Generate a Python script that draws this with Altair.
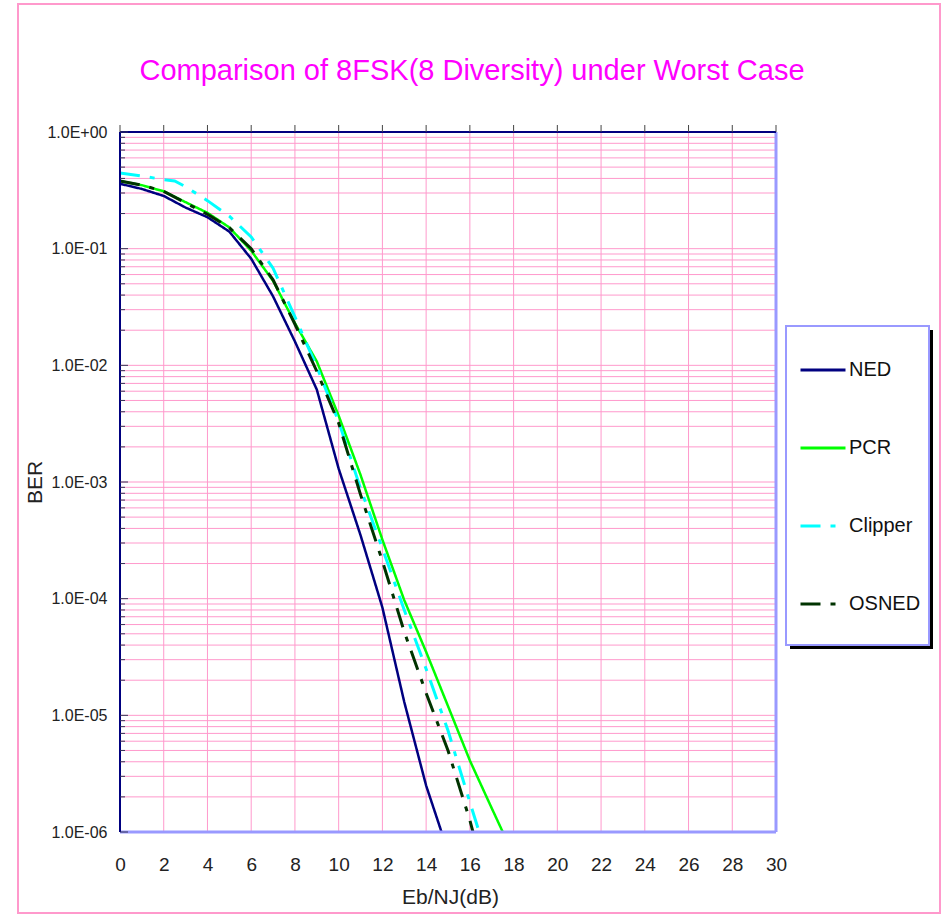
import altair as alt
import pandas as pd

FONT = "Liberation Sans, Arial, Helvetica, sans-serif"
TITLE = "Comparison of 8FSK(8 Diversity) under Worst Case"

# BER curves (Eb/NJ in dB -> bit error rate)
NED_X = [0, 1, 2, 3, 4, 5, 6, 7, 8, 9, 10, 11, 12, 13, 14, 15]
NED_BER = [0.36, 0.325, 0.283, 0.225, 0.186, 0.14, 0.082, 0.039, 0.016, 0.0062,
           0.0013, 3.5e-4, 8.4e-5, 1.3e-5, 2.5e-6, 6.8e-7]

PCR_X = [0, 1, 2, 3, 4, 5, 6, 7, 8, 9, 10, 11, 12, 13, 14, 15, 16, 17, 18]
PCR_BER = [0.38, 0.35, 0.31, 0.25, 0.203, 0.152, 0.096, 0.053, 0.023, 0.0108,
           0.0037, 0.00115, 3.2e-4, 9.7e-5, 3.5e-5, 1.2e-5, 4.1e-6, 1.6e-6, 6.3e-7]

CLIP_X = [0, 1, 2, 2.5, 3, 4, 5, 6, 7, 8, 9, 10, 11, 12, 13, 14, 15, 16, 17]
CLIP_BER = [0.445, 0.42, 0.39, 0.38, 0.34, 0.258, 0.19, 0.126, 0.068, 0.026,
            0.0097, 0.0033, 8.8e-4, 2.7e-4, 8e-5, 2.5e-5, 7.4e-6, 1.8e-6, 4.5e-7]

OSNED_X = [0, 1, 2, 3, 4, 5, 6, 7, 8, 9, 10, 11, 12, 13, 14, 15, 16, 17]
OSNED_BER = [0.38, 0.35, 0.31, 0.247, 0.197, 0.151, 0.1, 0.054, 0.0225, 0.0089,
             0.0032, 7.8e-4, 2.1e-4, 5.2e-5, 1.55e-5, 5e-6, 1.26e-6, 2.5e-7]

SERIES = ["NED", "PCR", "Clipper", "OSNED"]
COLORS = ["#000080", "#00FF00", "#00FFFF", "#003300"]
DASHES = [[1, 0], [1, 0], [20, 10, 5, 10], [20, 10, 5, 10]]
WIDTHS = [2.5, 2.5, 3, 3]

# axis positions
X_TICKS = list(range(0, 31, 2))
DECADES = [1e-6, 1e-5, 1e-4, 1e-3, 1e-2, 1e-1, 1.0]
MINOR_STEPS = [2, 3, 4, 5, 6, 7, 8, 9]

W, H = 656, 700

rows = []
for name, xs, ys in [("NED", NED_X, NED_BER), ("PCR", PCR_X, PCR_BER),
                     ("Clipper", CLIP_X, CLIP_BER), ("OSNED", OSNED_X, OSNED_BER)]:
    for xv, yv in zip(xs, ys):
        rows.append({"series": name, "x": xv, "ber": yv})
df = pd.DataFrame(rows)

minor_vals = [m * d for d in DECADES[:-1] for m in MINOR_STEPS]
hgrid = pd.DataFrame({"v": DECADES[1:-1] + minor_vals})
major_df = pd.DataFrame({"v": DECADES})
minor_df = pd.DataFrame({"v": minor_vals})
vgrid = pd.DataFrame({"x": X_TICKS[1:-1]})
xtick_df = pd.DataFrame({"x": X_TICKS})
one = pd.DataFrame({"k": [0]})
title_df = pd.DataFrame({"t": [TITLE]})

x_scale = alt.Scale(domain=[0, 30], nice=False, zero=False)
y_scale = alt.Scale(type="log", domain=[1e-6, 1], nice=False)

x_axis = alt.Axis(
    values=X_TICKS, ticks=False, grid=False, domain=False, labelFlush=False,
    labelFont=FONT, labelFontSize=19, labelColor="#222222", labelPadding=32,
    labelBaseline="middle",
    title="Eb/NJ(dB)", titleFont=FONT, titleFontSize=21, titleFontWeight="normal",
    titleColor="#222222", titleX=330, titleY=65, titleBaseline="middle", titleAlign="center",
)
y_axis = alt.Axis(
    values=DECADES, ticks=False, grid=False, domain=False,
    labelExpr="datum.value >= 1 ? '1.0E+00' : '1.0E-0' + round(-log(datum.value) / LN10)",
    labelFont=FONT, labelFontSize=16, labelColor="#222222", labelPadding=13,
    title="BER", titleFont=FONT, titleFontSize=21, titleFontWeight="normal",
    titleColor="#222222", titleX=-85, titleY=350, titleAngle=270,
    titleAlign="center", titleBaseline="middle",
)

legend = alt.Legend(
    orient="none", legendX=679, legendY=214, symbolType="stroke", symbolSize=2025,
    symbolStrokeWidth=3, labelFont=FONT, labelFontSize=20, labelColor="#111111",
    labelOffset=2, rowPadding=44, padding=0,
)

X = lambda f: alt.X(f, type="quantitative", scale=x_scale, axis=x_axis)
Y = lambda f: alt.Y(f, type="quantitative", scale=y_scale, axis=y_axis)

# outer chart frame
frame = alt.Chart(one).mark_rect(fillOpacity=0, stroke="#FF99CC", strokeWidth=2).encode(
    x=alt.value(-102), x2=alt.value(820), y=alt.value(-128), y2=alt.value(781)
)
title = alt.Chart(title_df).mark_text(
    font=FONT, fontSize=29, color="#FF00FF", align="center", baseline="alphabetic"
).encode(text="t:N", x=alt.value(352), y=alt.value(-52))

grid_h = alt.Chart(hgrid).mark_rule(stroke="#FF99CC", strokeWidth=1).encode(y=Y("v"))
grid_v = alt.Chart(vgrid).mark_rule(stroke="#FF99CC", strokeWidth=1).encode(x=X("x"))

lines = []
for name, w in zip(SERIES, WIDTHS):
    lines.append(
        alt.Chart(df).transform_filter(alt.datum.series == name)
        .mark_line(clip=True, strokeWidth=w)
        .encode(
            x=X("x"), y=Y("ber"),
            color=alt.Color("series:N", scale=alt.Scale(domain=SERIES, range=COLORS),
                            title=None, legend=legend),
            strokeDash=alt.StrokeDash("series:N", scale=alt.Scale(domain=SERIES, range=DASHES),
                                      title=None, legend=legend),
        )
    )

# plot borders: dark axes on left/top, light frame bottom/right
border_bottom = alt.Chart(one).mark_rule(stroke="#9999FF", strokeWidth=3).encode(
    x=alt.value(0), x2=alt.value(W), y=alt.value(H))
border_right = alt.Chart(one).mark_rule(stroke="#9999FF", strokeWidth=3).encode(
    x=alt.value(W), y=alt.value(0), y2=alt.value(H))
border_top = alt.Chart(one).mark_rule(stroke="#000080", strokeWidth=2).encode(
    x=alt.value(0), x2=alt.value(W), y=alt.value(0))
border_left = alt.Chart(one).mark_rule(stroke="#000080", strokeWidth=2).encode(
    x=alt.value(0), y=alt.value(0), y2=alt.value(H))

ticks_major = alt.Chart(major_df).mark_rule(stroke="#333355", strokeWidth=1).encode(
    y=Y("v"), x=alt.value(0), x2=alt.value(8))
ticks_minor = alt.Chart(minor_df).mark_rule(stroke="#333355", strokeWidth=1).encode(
    y=Y("v"), x=alt.value(0), x2=alt.value(5))
ticks_top = alt.Chart(xtick_df).mark_rule(stroke="#444444", strokeWidth=1).encode(
    x=X("x"), y=alt.value(-7), y2=alt.value(0))

# legend box with drop shadow
legend_shadow = alt.Chart(one).mark_rect(fill="#000000").encode(
    x=alt.value(670), x2=alt.value(813), y=alt.value(198), y2=alt.value(517))
legend_box = alt.Chart(one).mark_rect(fill="#FFFFFF", stroke="#9999FF", strokeWidth=2).encode(
    x=alt.value(666), x2=alt.value(809), y=alt.value(194), y2=alt.value(513))

chart = alt.layer(
    frame, title, grid_h, grid_v, *lines,
    border_bottom, border_right, border_top, border_left,
    ticks_major, ticks_minor, ticks_top, legend_shadow, legend_box,
).properties(
    width=W, height=H,
    padding={"left": 17, "top": 3, "right": 0, "bottom": 0},
    background="#FFFFFF",
).configure_view(stroke="transparent")

chart.save("out.html", embed_options={"renderer": "svg", "actions": False})
